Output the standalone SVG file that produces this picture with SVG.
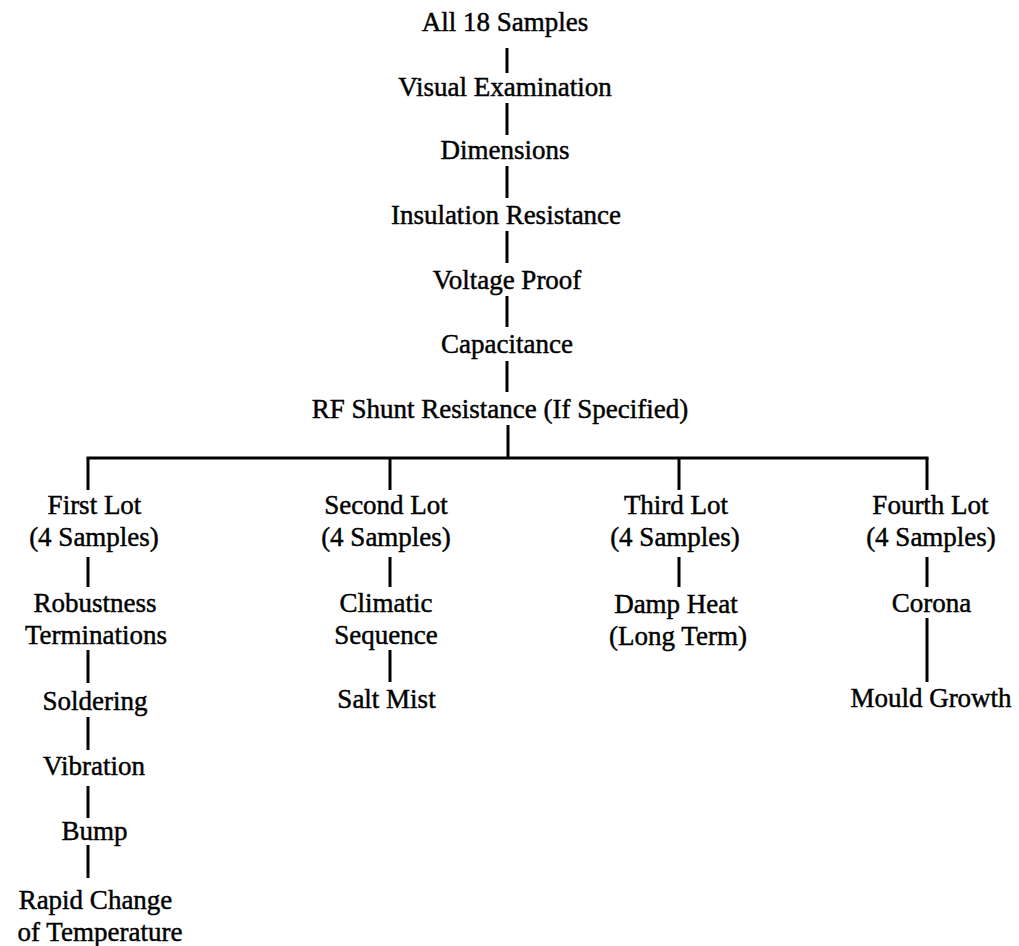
<svg xmlns="http://www.w3.org/2000/svg" width="1019" height="946" viewBox="0 0 1019 946">
<style>
text{font-family:"Liberation Serif","Times New Roman",serif;font-size:27px;fill:#000;text-anchor:middle;stroke:#000;stroke-width:0.45}
.c line{stroke:#000;stroke-width:3;stroke-linecap:butt}
</style>
<rect width="1019" height="946" fill="#fff"/>
<g class="c" id="connectors">
<line x1="507" y1="48" x2="507" y2="73"/>
<line x1="507" y1="103" x2="507" y2="135"/>
<line x1="507" y1="166" x2="507" y2="198"/>
<line x1="507" y1="231" x2="507" y2="263"/>
<line x1="507" y1="296" x2="507" y2="327"/>
<line x1="507" y1="361" x2="507" y2="392"/>
<line x1="508" y1="425" x2="508" y2="458"/>
<line x1="86.5" y1="458" x2="928.5" y2="458"/>
<line x1="88" y1="458" x2="88" y2="490"/>
<line x1="390" y1="458" x2="390" y2="490"/>
<line x1="679" y1="458" x2="679" y2="490"/>
<line x1="927" y1="458" x2="927" y2="490"/>
<line x1="88" y1="557" x2="88" y2="587"/>
<line x1="390" y1="557" x2="390" y2="587"/>
<line x1="679" y1="557" x2="679" y2="587"/>
<line x1="927" y1="557" x2="927" y2="587"/>
<line x1="88" y1="650" x2="88" y2="683"/>
<line x1="390" y1="650" x2="390" y2="682"/>
<line x1="927" y1="618" x2="927" y2="682"/>
<line x1="88" y1="717" x2="88" y2="750"/>
<line x1="88" y1="786" x2="88" y2="818"/>
<line x1="88" y1="845" x2="88" y2="878"/>
</g>
<g id="n-all"><text x="505" y="31">All 18 Samples</text></g>
<g id="n-visual"><text x="505" y="96">Visual Examination</text></g>
<g id="n-dim"><text x="505" y="159">Dimensions</text></g>
<g id="n-ins"><text x="506" y="224">Insulation Resistance</text></g>
<g id="n-volt"><text x="507" y="289">Voltage Proof</text></g>
<g id="n-cap"><text x="507" y="353">Capacitance</text></g>
<g id="n-rf"><text x="500" y="418">RF Shunt Resistance (If Specified)</text></g>
<g id="n-lot1"><text x="94.5" y="514">First Lot</text><text x="94" y="546">(4 Samples)</text></g>
<g id="n-lot2"><text x="386" y="514">Second Lot</text><text x="386" y="546">(4 Samples)</text></g>
<g id="n-lot3"><text x="676" y="514">Third Lot</text><text x="675" y="546">(4 Samples)</text></g>
<g id="n-lot4"><text x="930.5" y="514">Fourth Lot</text><text x="931" y="546">(4 Samples)</text></g>
<g id="n-robust"><text x="95" y="612">Robustness</text><text x="96" y="644">Terminations</text></g>
<g id="n-solder"><text x="95" y="710">Soldering</text></g>
<g id="n-vib"><text x="94" y="775">Vibration</text></g>
<g id="n-bump"><text x="94.5" y="840">Bump</text></g>
<g id="n-rapid"><text x="95.5" y="909">Rapid Change</text><text x="100" y="941">of Temperature</text></g>
<g id="n-climatic"><text x="386" y="612">Climatic</text><text x="386" y="644">Sequence</text></g>
<g id="n-salt"><text x="386.5" y="708">Salt Mist</text></g>
<g id="n-damp"><text x="676" y="613">Damp Heat</text><text x="678" y="645">(Long Term)</text></g>
<g id="n-corona"><text x="931.5" y="612">Corona</text></g>
<g id="n-mould"><text x="931" y="707">Mould Growth</text></g>
</svg>
